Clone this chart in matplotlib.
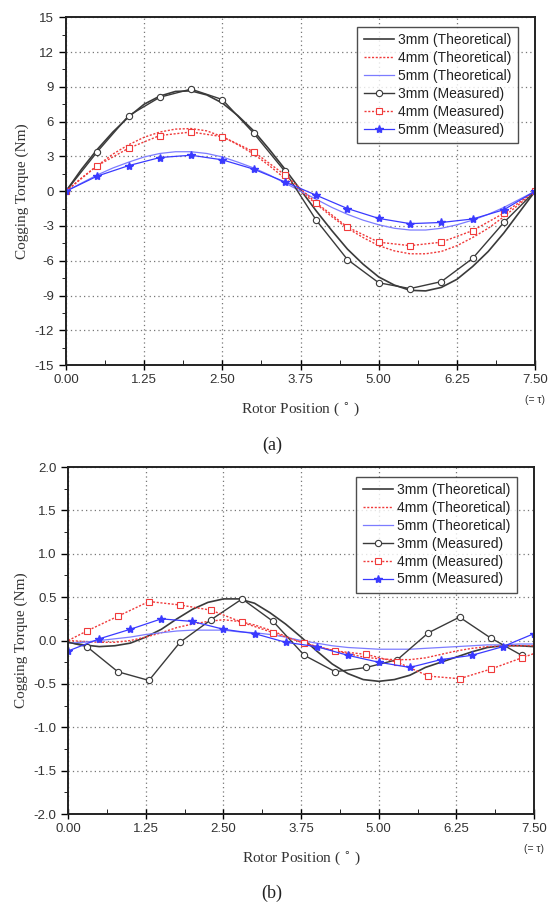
import numpy as np
import matplotlib.pyplot as plt
from matplotlib.ticker import MultipleLocator, FormatStrFormatter

# -- colours / fonts ------------------------------------------------
BLACK = "#3a3a3a"
RED = "#f03a3a"
BLUE = "#3a3aff"
LBLUE = "#7c7cff"
SANS = ["Liberation Sans", "DejaVu Sans"]
SERIF = ["Liberation Serif", "DejaVu Serif"]

LABELS = ["3mm (Theoretical)", "4mm (Theoretical)", "5mm (Theoretical)",
          "3mm (Measured)", "4mm (Measured)", "5mm (Measured)"]

# -- (a) data -------------------------------------------------------
a_x_theo = [0.00, 0.25, 0.50, 0.75, 1.00, 1.25, 1.50, 1.75, 2.00, 2.25, 2.50,
            2.75, 3.00, 3.25, 3.50, 3.75, 4.00, 4.25, 4.50, 4.75, 5.00, 5.25,
            5.50, 5.75, 6.00, 6.25, 6.50, 6.75, 7.00, 7.25, 7.50]
a_theo_3 = [0.0, 1.9, 3.6, 5.1, 6.4, 7.5, 8.2, 8.6, 8.65, 8.3, 7.6, 6.5, 5.2,
            3.6, 1.9, 0.1, -1.7, -3.4, -5.0, -6.3, -7.4, -8.1, -8.55, -8.6,
            -8.3, -7.6, -6.5, -5.2, -3.6, -1.8, 0.0]
a_theo_4 = [0.0, 1.15, 2.2, 3.2, 4.0, 4.65, 5.1, 5.35, 5.4, 5.2, 4.7, 4.0, 3.2,
            2.2, 1.1, 0.0, -1.1, -2.2, -3.2, -4.0, -4.7, -5.15, -5.4, -5.4,
            -5.2, -4.7, -4.0, -3.2, -2.2, -1.1, 0.0]
a_theo_5 = [0.0, 0.7, 1.4, 2.0, 2.5, 2.95, 3.25, 3.4, 3.4, 3.25, 2.95, 2.5, 2.0,
            1.4, 0.7, 0.0, -0.7, -1.4, -2.0, -2.5, -2.9, -3.2, -3.35, -3.35,
            -3.2, -2.9, -2.5, -2.0, -1.4, -0.7, 0.0]

a_x_meas = [0.0, 0.5, 1.0, 1.5, 2.0, 2.5, 3.0, 3.5, 4.0, 4.5, 5.0, 5.5, 6.0,
            6.5, 7.0, 7.5]
a_meas_3 = [0.0, 3.4, 6.5, 8.1, 8.8, 7.9, 5.0, 1.7, -2.5, -5.9, -7.9, -8.4,
            -7.8, -5.8, -2.7, 0.0]
a_meas_4 = [0.0, 2.2, 3.7, 4.8, 5.1, 4.7, 3.4, 1.4, -1.0, -3.1, -4.4, -4.7,
            -4.4, -3.4, -1.9, 0.0]
a_meas_5 = [0.0, 1.3, 2.2, 2.9, 3.1, 2.7, 1.9, 0.8, -0.35, -1.5, -2.35, -2.8,
            -2.7, -2.4, -1.6, 0.0]

# -- (b) data -------------------------------------------------------
b_x_theo = a_x_theo
b_theo_3 = [-0.02, -0.05, -0.07, -0.06, -0.03, 0.04, 0.13, 0.25, 0.36, 0.44,
            0.48, 0.48, 0.43, 0.32, 0.19, 0.04, -0.12, -0.27, -0.38, -0.45,
            -0.47, -0.45, -0.40, -0.31, -0.25, -0.19, -0.13, -0.08, -0.06,
            -0.06, -0.07]
b_theo_4 = [0.0, -0.01, -0.02, -0.02, 0.0, 0.04, 0.09, 0.15, 0.19, 0.22, 0.24,
            0.22, 0.18, 0.12, 0.05, -0.02, -0.07, -0.11, -0.15, -0.19, -0.21,
            -0.22, -0.22, -0.20, -0.16, -0.12, -0.09, -0.07, -0.06, -0.06, -0.06]
b_theo_5 = [-0.03, -0.02, 0.0, 0.02, 0.04, 0.07, 0.09, 0.11, 0.12, 0.12, 0.12,
            0.10, 0.09, 0.07, 0.04, 0.0, -0.03, -0.06, -0.08, -0.09, -0.10,
            -0.10, -0.10, -0.09, -0.08, -0.07, -0.06, -0.05, -0.05, -0.04, -0.04]

b_x_meas_3 = [0.0, 0.3, 0.8, 1.3, 1.8, 2.3, 2.8, 3.3, 3.8, 4.3, 4.8, 5.3, 5.8,
              6.3, 6.8, 7.3]
b_meas_3 = [-0.02, -0.07, -0.36, -0.46, -0.02, 0.24, 0.48, 0.22, -0.17, -0.36,
            -0.31, -0.22, 0.09, 0.27, 0.03, -0.17]
b_x_meas_4 = [0.0, 0.3, 0.8, 1.3, 1.8, 2.3, 2.8, 3.3, 3.8, 4.3, 4.8, 5.3, 5.8,
              6.3, 6.8, 7.3, 7.5]
b_meas_4 = [0.0, 0.11, 0.28, 0.45, 0.41, 0.35, 0.21, 0.09, -0.03, -0.12, -0.16,
            -0.25, -0.41, -0.44, -0.33, -0.20, -0.15]
b_x_meas_5 = a_x_meas
b_meas_5 = [-0.12, 0.02, 0.13, 0.25, 0.22, 0.13, 0.08, -0.02, -0.07, -0.17,
            -0.25, -0.31, -0.22, -0.17, -0.07, 0.08]


def draw_panel(ax, theo, meas, ylim, ymajor, yminor, yfmt, marks):
    x_t, t3, t4, t5 = theo
    (x3, m3), (x4, m4), (x5, m5) = meas
    ax.plot(x_t, t3, color=BLACK, lw=1.2, label=LABELS[0])
    ax.plot(x_t, t4, color=RED, lw=1.0, ls=(0, (1.5, 1.2)), label=LABELS[1])
    ax.plot(x_t, t5, color=LBLUE, lw=0.9, label=LABELS[2])
    ax.plot(x3, m3, color=BLACK, lw=1.0, marker="o", ms=4.5, mfc="white",
            mec=BLACK, mew=0.8, markevery=marks[0], label=LABELS[3])
    ax.plot(x4, m4, color=RED, lw=1.0, ls=(0, (1.5, 1.2)), marker="s", ms=4.5,
            mfc="white", mec=RED, mew=0.8, markevery=marks[1],
            label=LABELS[4])
    ax.plot(x5, m5, color=BLUE, lw=0.9, marker="*", ms=6, mfc=BLUE, mec=BLUE,
            label=LABELS[5])

    ax.set_xlim(0, 7.5)
    ax.set_ylim(*ylim)
    ax.xaxis.set_major_locator(MultipleLocator(1.25))
    ax.xaxis.set_minor_locator(MultipleLocator(0.625))
    ax.yaxis.set_major_locator(MultipleLocator(ymajor))
    ax.yaxis.set_minor_locator(MultipleLocator(yminor))
    ax.xaxis.set_major_formatter(FormatStrFormatter("%.2f"))
    ax.yaxis.set_major_formatter(FormatStrFormatter(yfmt))
    ax.tick_params(axis="x", which="major", direction="inout", length=7,
                   width=1.0, pad=3)
    ax.tick_params(axis="x", which="minor", direction="in", length=3.5)
    ax.tick_params(axis="y", which="major", direction="out", length=5,
                   width=1.0)
    ax.tick_params(axis="y", which="minor", direction="out", length=3)
    for lab in ax.get_xticklabels() + ax.get_yticklabels():
        lab.set_fontfamily(SANS)
        lab.set_fontsize(9.5)
        lab.set_color("#333333")
    for sp in ax.spines.values():
        sp.set_linewidth(1.4)
        sp.set_color("#222222")
    ax.grid(True, which="major", color="#777777", ls=(0, (1, 2.5)), lw=0.9)

    leg = ax.legend(loc="upper right", bbox_to_anchor=(0.978, 0.992),
                    frameon=True, fancybox=False, edgecolor="#222222",
                    handlelength=2.2, handletextpad=0.3, labelspacing=0.28,
                    borderpad=0.45, prop={"family": SANS, "size": 10})
    leg.get_frame().set_linewidth(1.0)
    for txt in leg.get_texts():
        txt.set_color("#222222")

    ax.set_ylabel("Cogging Torque (Nm)", fontfamily=SERIF, fontsize=11,
                  color="#333333", labelpad=4)
    ax.set_xlabel("Rotor Position ( $^{\\circ}$ )", fontfamily=SERIF,
                  fontsize=11, color="#333333", labelpad=10)
    ax.text(7.5, -0.085, "(= \u03c4)", transform=ax.get_xaxis_transform(),
            ha="center", va="top", fontsize=7.5, fontfamily=SANS,
            color="#333333")


def main():
    fig = plt.figure(figsize=(5.5, 9.06), dpi=100)
    ax_a = fig.add_axes([0.12, 0.597, 0.853, 0.384])
    ax_b = fig.add_axes([0.124, 0.1015, 0.847, 0.383])

    draw_panel(ax_a, (a_x_theo, a_theo_3, a_theo_4, a_theo_5),
               ((a_x_meas, a_meas_3), (a_x_meas, a_meas_4), (a_x_meas, a_meas_5)),
               (-15, 15), 3, 1.5, "%d", (None, None))
    draw_panel(ax_b, (b_x_theo, b_theo_3, b_theo_4, b_theo_5),
               ((b_x_meas_3, b_meas_3), (b_x_meas_4, b_meas_4),
                (b_x_meas_5, b_meas_5)),
               (-2.0, 2.0), 0.5, 0.25, "%.1f",
               (slice(1, None), slice(1, 16)))

    fig.text(0.495, 1 - 445 / 906, "(a)", ha="center", va="center",
             fontfamily=SERIF, fontsize=13, color="#222222")
    fig.text(0.495, 1 - 893 / 906, "(b)", ha="center", va="center",
             fontfamily=SERIF, fontsize=13, color="#222222")
    fig.savefig("out.png", dpi=100)


if __name__ == "__main__":
    main()
